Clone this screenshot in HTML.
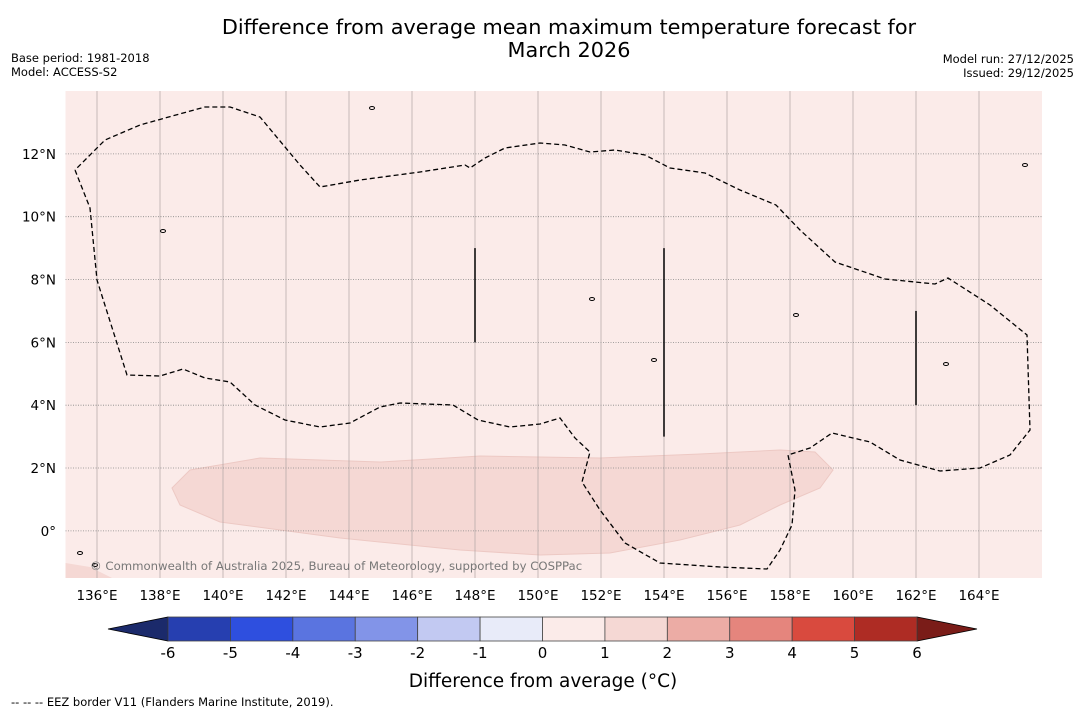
<!DOCTYPE html>
<html><head><meta charset="utf-8"><style>
body{margin:0;background:#fff;width:1085px;height:713px;overflow:hidden;font-family:"Liberation Sans","DejaVu Sans",sans-serif;}
svg text{font-family:"DejaVu Sans","Liberation Sans",sans-serif;}
</style></head><body>
<svg id="c" width="1085" height="713" xmlns="http://www.w3.org/2000/svg">
<text x="569" y="34" font-size="20.8" text-anchor="middle">Difference from average mean maximum temperature forecast for</text>
<text x="569" y="57" font-size="20.8" text-anchor="middle">March 2026</text>
<text x="11" y="62" font-size="11.5">Base period: 1981-2018</text>
<text x="11" y="76" font-size="11.5">Model: ACCESS-S2</text>
<text x="1074" y="63" font-size="11.5" text-anchor="end">Model run: 27/12/2025</text>
<text x="1074" y="77" font-size="11.5" text-anchor="end">Issued: 29/12/2025</text>
<text x="11" y="706" font-size="11.5">--  --  -- EEZ border V11 (Flanders Marine Institute, 2019).</text>
<g id="map"></g>
<g id="cbar"></g>
<text x="543" y="687" font-size="18.5" text-anchor="middle">Difference from average (°C)</text>
</svg>
<script>
const lonTicks=[136,138,140,142,144,146,148,150,152,154,156,158,160,162,164];
const latTicks=[12,10,8,6,4,2,0];
const cbLevels=[-6,-5,-4,-3,-2,-1,0,1,2,3,4,5,6];
const cbColors=["#263fb0","#2e4fdf","#5a74e0","#8294e8","#c2c9f2","#e8ebf9","#fbebe9","#f5d8d4","#ecaca5","#e5857d","#d94a3e","#ae2c24"];
const cbLow="#1b2a6b", cbHigh="#7a1c18";
const NS="http://www.w3.org/2000/svg";
const X0=65.5,X1=1042,Y0=91,Y1=578;
const lonMin=135,lonMax=166,latMin=-1.5,latMax=14;
const xs=l=>X0+(l-lonMin)/(lonMax-lonMin)*(X1-X0);
const ys=l=>Y0+(latMax-l)/(latMax-latMin)*(Y1-Y0);
function mk(t,a,p){const e=document.createElementNS(NS,t);for(const k in a)e.setAttribute(k,a[k]);p.appendChild(e);return e;}
const map=document.getElementById('map');
const bg=mk('rect',{x:X0,y:Y0,width:X1-X0,height:Y1-Y0,fill:"#fbebe9"},map);


const band=[[172,488],[190,470],[260,458],[380,462],[480,456],[600,458],[700,454],[780,450],[815,452],[833,470],[820,488],[780,505],[740,525],[680,540],[610,553],[540,555],[460,550],[340,538],[220,522],[180,505]];
const bp=mk('polygon',{points:band.map(p=>p.join(',')).join(' '),fill:"#f5d8d4",stroke:"#edc9c4","stroke-width":1},map);


const corner=mk('polygon',{points:"65.5,563 90,567 112,578 65.5,578",fill:"#f5d8d4"},map);


lonTicks.forEach(l=>{const x=xs(l);
 const g=mk('line',{x1:x,x2:x,y1:Y0,y2:Y1,stroke:"#b0a4a4",'stroke-width':0.7},map);
 
 
 const t=mk('text',{x:x,y:600,'font-size':13.5,'text-anchor':'middle'},map);t.textContent=l+'°E';
 
 });
latTicks.forEach(l=>{const y=ys(l);
 const g=mk('line',{x1:X0,x2:X1,y1:y,y2:y,stroke:"#888",'stroke-width':0.8,'stroke-dasharray':'1,1.5'},map);
 
 
 const t=mk('text',{x:56,y:y+5,'font-size':13.5,'text-anchor':'end'},map);t.textContent=(l===0?'0°':l+'°N');
 
 });
const eez=[[75,170],[90,208],[97,280],[127,375],[160,376],[183,369],[205,378],[230,382],[255,405],[285,420],[320,427],[350,423],[380,407],[400,403],[453,405],[478,420],[510,427],[540,424],[560,418],[575,438],[590,452],[582,482],[600,510],[625,543],[660,563],[720,567],[767,569],[780,550],[792,525],[795,490],[788,455],[810,448],[832,433],[870,442],[900,460],[940,471],[980,468],[1010,455],[1030,430],[1027,335],[990,305],[948,278],[935,284],[885,279],[835,262],[800,230],[776,205],[740,190],[705,173],[670,168],[645,155],[615,150],[590,152],[565,145],[540,143],[505,148],[485,158],[470,168],[465,165],[420,172],[360,180],[320,187],[300,165],[260,117],[230,107],[205,107],[165,118],[140,125],[105,140],[75,170]];
const ep=mk('polyline',{points:eez.map(p=>p.join(',')).join(' '),fill:"none",stroke:"#000",'stroke-width':1.3,'stroke-dasharray':'5,3'},map);


[[148,9,6],[154,9,3],[162,7,4]].forEach(s=>{const l=mk('line',{x1:xs(s[0]),x2:xs(s[0]),y1:ys(s[1]),y2:ys(s[2]),stroke:"#000",'stroke-width':1.5},map);
 
 });
[[372,108],[163,231],[592,299],[796,315],[946,364],[654,360],[80,553],[95,565],[1025,165]].forEach(p=>{const c=mk('ellipse',{cx:p[0],cy:p[1],rx:2.5,ry:1.5,fill:"none",stroke:"#000",'stroke-width':1},map);
 
 });
const cr=mk('text',{x:90,y:570,'font-size':11.7,fill:"#777"},map);cr.textContent="© Commonwealth of Australia 2025, Bureau of Meteorology, supported by COSPPac";


const cb=document.getElementById('cbar');
const CX0=168,CX1=917,CY0=617,CY1=641;
const cx=v=>CX0+(v-cbLevels[0])/(cbLevels[cbLevels.length-1]-cbLevels[0])*(CX1-CX0);
const lt=mk('polygon',{points:`108,629 ${CX0},${CY0} ${CX0},${CY1}`,fill:cbLow,stroke:"#000",'stroke-width':0.8},cb);


const rt=mk('polygon',{points:`977,629 ${CX1},${CY0} ${CX1},${CY1}`,fill:cbHigh,stroke:"#000",'stroke-width':0.8},cb);


cbColors.forEach((c,i)=>{const r=mk('rect',{x:cx(cbLevels[i]),y:CY0,width:cx(cbLevels[i+1])-cx(cbLevels[i]),height:CY1-CY0,fill:c,stroke:"#444",'stroke-width':0.8},cb);
 
 });
cbLevels.forEach(v=>{const t=mk('text',{x:cx(v),y:658,'font-size':15,'text-anchor':'middle'},cb);t.textContent=v;
 
 });
</script>
</body></html>
